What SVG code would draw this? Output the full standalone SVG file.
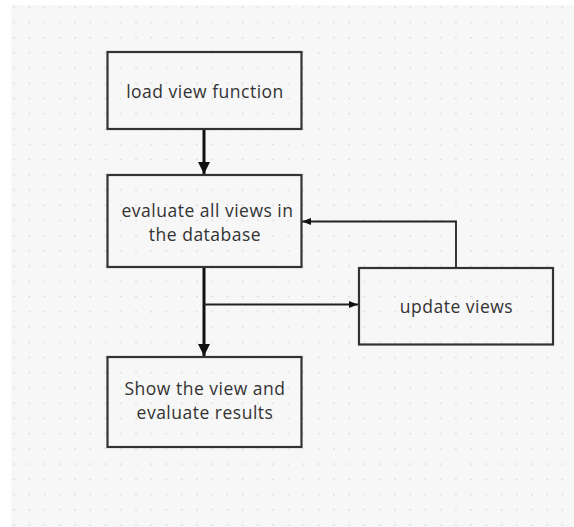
<svg xmlns="http://www.w3.org/2000/svg" width="574" height="527" viewBox="0 0 574 527">
<defs>
<pattern id="dots" x="6.5" y="0" width="15.23" height="15.23" patternUnits="userSpaceOnUse">
<rect x="7" y="6.5" width="1.4" height="1.4" fill="#d2d2d2"/>
</pattern>
<marker id="bigHead" viewBox="0 0 12 12" refX="12" refY="6" markerWidth="12" markerHeight="12" markerUnits="userSpaceOnUse" orient="auto">
<path d="M0,0 L12,6 L0,12 z" fill="#111"/>
</marker>
<marker id="smallHead" viewBox="0 0 9 7" refX="9" refY="3.5" markerWidth="9" markerHeight="7" markerUnits="userSpaceOnUse" orient="auto">
<path d="M0,0 L9,3.5 L0,7 z" fill="#111"/>
</marker>
</defs>
<style>
.box{fill:none;stroke:#333;stroke-width:2.2}
.lbl{font-family:"Open Sans","Liberation Sans",sans-serif;font-size:17.5px;letter-spacing:0.5px;fill:#333;text-anchor:middle}
.thick{fill:none;stroke:#111;stroke-width:3}
.thin{fill:none;stroke:#222;stroke-width:1.8}
</style>
<rect x="0" y="0" width="574" height="527" fill="#ffffff"/>
<rect x="11" y="5" width="563" height="522" fill="#f7f7f7"/>
<rect x="11" y="5" width="563" height="522" fill="url(#dots)"/>
<g id="connectors">
<path class="thick" d="M204,130 V174" marker-end="url(#bigHead)"/>
<path class="thick" d="M204,267 V356" marker-end="url(#bigHead)"/>
<path class="thin" d="M204,304.5 H358" marker-end="url(#smallHead)"/>
<path class="thin" d="M456,267 V221.5 H302" marker-end="url(#smallHead)"/>
</g>
<g id="node-load">
<rect class="box" x="107.5" y="52" width="194" height="77"/>
<text class="lbl" x="205" y="98">load view function</text>
</g>
<g id="node-evaluate">
<rect class="box" x="107.5" y="175" width="194" height="92"/>
<text class="lbl" x="207.5" y="216.5">evaluate all views in</text>
<text class="lbl" x="205" y="240.5">the database</text>
</g>
<g id="node-update">
<rect class="box" x="359" y="268" width="194" height="76.5"/>
<text class="lbl" x="456.5" y="313">update views</text>
</g>
<g id="node-show">
<rect class="box" x="107.5" y="357" width="194" height="90"/>
<text class="lbl" x="205" y="395">Show the view and</text>
<text class="lbl" x="205" y="419">evaluate results</text>
</g>
</svg>
